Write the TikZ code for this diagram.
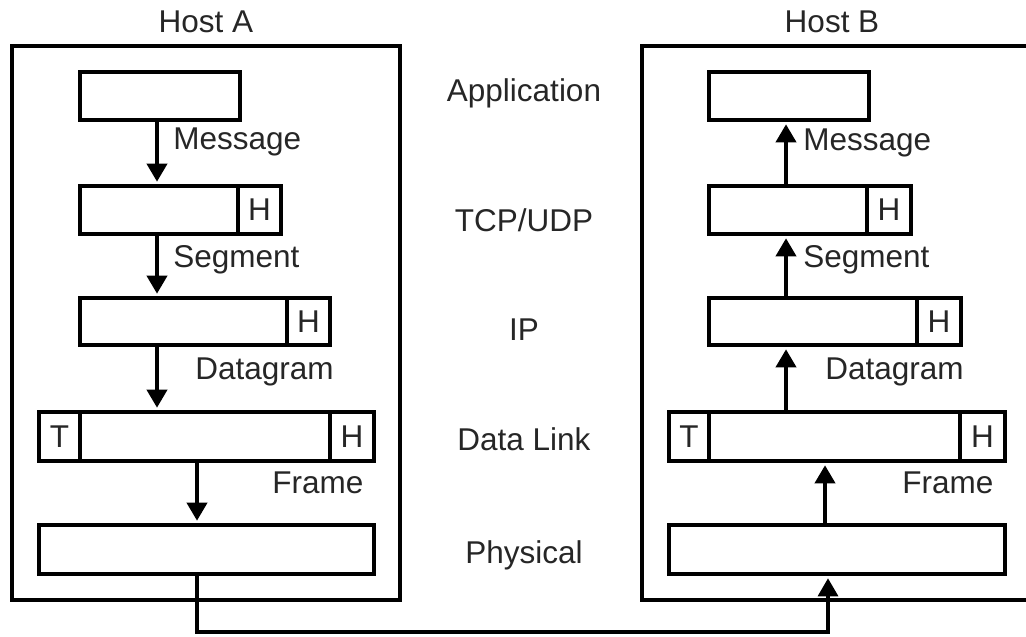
\documentclass[tikz,border=0pt]{standalone}
\usepackage{fontspec}
\setmainfont{Liberation Sans}
\usetikzlibrary{arrows.meta,fit}
\begin{document}
\begin{tikzpicture}[x=0.5pt,y=-0.5pt,
  box/.style={draw, line width=2.3pt, inner sep=0pt, rectangle, fill=white},
  host/.style={draw, line width=2.4pt, inner sep=0pt, rectangle},
  lbl/.style={font=\fontsize{15.75}{18}\selectfont, inner sep=0pt, text=black!85},
  cell/.style={box, label={[lbl]center:#1}},
  arr/.style={line width=1.9pt, shorten >=1pt, -{Triangle[length=9pt,width=10pt]}},
  wire/.style={line width=1.6pt, shorten >=1pt, -{Triangle[length=9pt,width=10pt]}}]
\useasboundingbox (0,0) rectangle (1026,636);

% hosts
\node[host, fit={(12,46) (400,600)}] (hA) {};
\node[host, fit={(642,46) (1029,600)}] (hB) {};
\node[lbl, anchor=base] (tA) at (206,33) {Host A};
\node[lbl, anchor=base] (tB) at (832,33) {Host B};

% Host A boxes
\node[box, fit={(80,72) (240,120)}] (aA) {};
\node[box, fit={(80,186) (281,234)}] (sA) {};
\node[cell=H, fit={(238,186) (281,234)}] (sAH) {};
\node[box, fit={(80,298) (330,345)}] (dA) {};
\node[cell=H, fit={(287,298) (330,345)}] (dAH) {};
\node[box, fit={(39,412) (374,461)}] (lA) {};
\node[cell=T, fit={(39,412) (80,461)}] (lAT) {};
\node[cell=H, fit={(330,412) (374,461)}] (lAH) {};
\node[box, fit={(39,525) (374,574)}] (pA) {};

% Host B boxes
\node[box, fit={(709,72) (869,120)}] (aB) {};
\node[box, fit={(709,186) (911,234)}] (sB) {};
\node[cell=H, fit={(867,186) (911,234)}] (sBH) {};
\node[box, fit={(709,298) (961,345)}] (dB) {};
\node[cell=H, fit={(917,298) (961,345)}] (dBH) {};
\node[box, fit={(669,412) (1005,461)}] (lB) {};
\node[cell=T, fit={(669,412) (709,461)}] (lBT) {};
\node[cell=H, fit={(960,412) (1005,461)}] (lBH) {};
\node[box, fit={(669,525) (1005,574)}] (pB) {};

% layer names
\node[lbl, anchor=base] (nApp) at (524,102) {Application};
\node[lbl, anchor=base] (nTcp) at (524,231) {TCP/UDP};
\node[lbl, anchor=base] (nIp) at (524,340) {IP};
\node[lbl, anchor=base] (nDl) at (524,450) {Data Link};
\node[lbl, anchor=base] (nPh) at (524,563) {Physical};

% PDU labels
\node[lbl, anchor=base west] (mA) at (173,150) {Message};
\node[lbl, anchor=base west] (gA) at (173,267) {Segment};
\node[lbl, anchor=base west] (qA) at (195,379) {Datagram};
\node[lbl, anchor=base west] (fA) at (272,493) {Frame};
\node[lbl, anchor=base west] (mB) at (803,151) {Message};
\node[lbl, anchor=base west] (gB) at (803,267) {Segment};
\node[lbl, anchor=base west] (qB) at (825,379) {Datagram};
\node[lbl, anchor=base west] (fB) at (902,493) {Frame};

% arrow columns
\coordinate (cA) at (157,0);
\coordinate (cA2) at (197,0);
\coordinate (cB) at (786,0);
\coordinate (cB2) at (825,0);
\coordinate (w1) at (197,632);
\coordinate (w2) at (828,632);

\draw[arr] (cA |- aA.south) -- (cA |- sA.north);
\draw[arr] (cA |- sA.south) -- (cA |- dA.north);
\draw[arr] (cA |- dA.south) -- (cA |- lA.north);
\draw[arr] (cA2 |- lA.south) -- (cA2 |- pA.north);

\draw[arr] (cB |- sB.north) -- (cB |- aB.south);
\draw[arr] (cB |- dB.north) -- (cB |- sB.south);
\draw[arr] (cB |- lB.north) -- (cB |- dB.south);
\draw[arr] (cB2 |- pB.north) -- (cB2 |- lB.south);

\draw[wire] (cA2 |- pA.south) -- (w1) -- (w2) -- (w2 |- pB.south);
\end{tikzpicture}
\end{document}
